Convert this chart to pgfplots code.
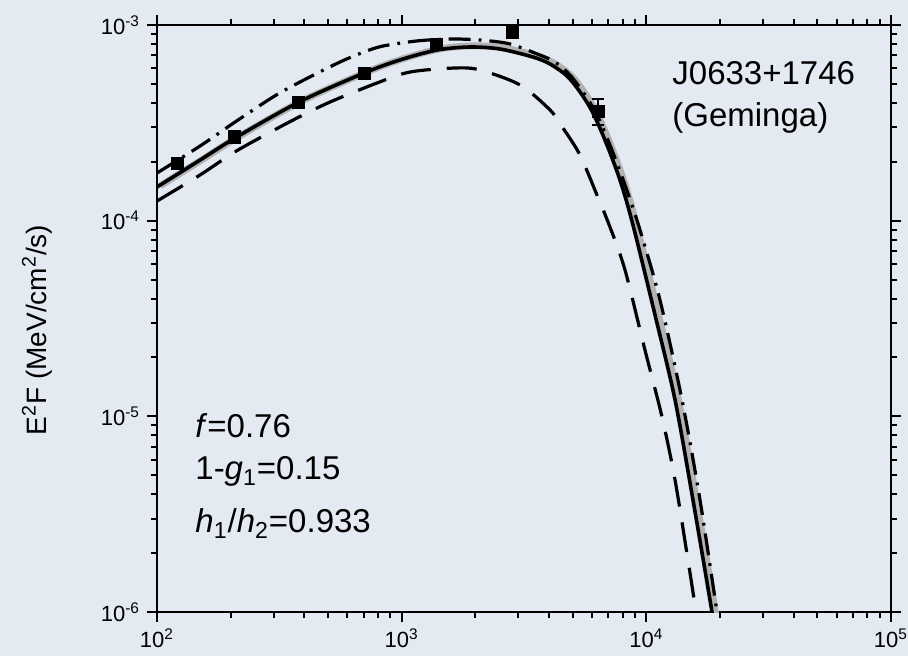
\documentclass[border=0pt]{standalone}
\usepackage{pgfplots}
\pgfplotsset{compat=1.18}
\usepackage{fontspec}
\setmainfont{Liberation Sans}
\definecolor{bg}{RGB}{227,234,242}
\definecolor{band}{RGB}{178,178,178}

\begin{document}
\begin{tikzpicture}
\fill[bg] (0,0) rectangle (454pt,328pt);
\begin{axis}[
  at={(78.5pt,22pt)}, anchor=south west,
  scale only axis, width=367pt, height=293.5pt,
  xmode=log, ymode=log,
  xmin=100, xmax=100000, ymin=1e-6, ymax=1e-3,
  tick align=outside,
  axis line style={line width=1pt},
  every tick/.style={black, line width=1pt},
  major tick length=5pt, minor tick length=3pt,
  xtick={100,1000,10000,100000},
  xticklabels={10\textsuperscript{2},10\textsuperscript{3},10\textsuperscript{4},10\textsuperscript{5}},
  minor xtick={200,300,400,500,600,700,800,900,2000,3000,4000,5000,6000,7000,8000,9000,20000,30000,40000,50000,60000,70000,80000,90000},
  ytick={1e-6,1e-5,1e-4,1e-3},
  yticklabels={10\textsuperscript{-6},10\textsuperscript{-5},10\textsuperscript{-4},10\textsuperscript{-3}},
  minor ytick={2e-6,3e-6,4e-6,5e-6,6e-6,7e-6,8e-6,9e-6,2e-5,3e-5,4e-5,5e-5,6e-5,7e-5,8e-5,9e-5,2e-4,3e-4,4e-4,5e-4,6e-4,7e-4,8e-4,9e-4},
  tick label style={font=\fontsize{11}{12}\selectfont},
  clip=true,
]
% gray band
\addplot[band, line width=3.4pt, smooth, xshift=1.6pt, yshift=0.6pt] coordinates {
(100,1.486e-4) (149.9,2.04e-4) (208.4,2.645e-4) (380.5,4.04e-4) (701.6,5.68e-4)
(984.5,6.63e-4) (1394,7.45e-4) (1902,7.72e-4) (2523,7.54e-4) (3442,6.86e-4)
(4040,6.32e-4) (4739,5.49e-4) (5356,4.55e-4) (5997,3.63e-4) (6776,2.584e-4)
(7804,1.614e-4) (8820,9.50e-5)
(10850,3.30e-5) (13100,1.213e-5) (15510,3.74e-6) (18550,1.0e-6) (19260,7.19e-7)
};
% dashed
\addplot[black, line width=1.6pt, smooth, dash pattern=on 15pt off 8pt] coordinates {
(100,1.260e-4) (149.9,1.712e-4) (204.5,2.217e-4) (276.3,2.740e-4) (373.5,3.347e-4)
(509.4,4.04e-4) (792.6,5.053e-4) (1081,5.75e-4) (1652,6.03e-4) (2090,5.89e-4)
(3045,4.94e-4) (4039,3.68e-4) (4564,2.975e-4) (5355,2.166e-4) (6284,1.352e-4)
(7102,9.28e-5) (8180,5.60e-5) (9874,2.18e-5) (11590,9.92e-6) (13100,4.73e-6)
(14800,1.84e-6) (15960,1.0e-6) (16570,7.19e-7)
};
% dash-dot
\addplot[black, line width=1.6pt, smooth, dash pattern=on 11pt off 4pt on 1.4pt off 4pt] coordinates {
(100,1.752e-4) (149.9,2.407e-4) (208.4,3.193e-4) (298.0,4.286e-4) (384.1,5.113e-4)
(559.8,6.47e-4) (701.6,7.28e-4) (838.8,7.81e-4) (1155,8.29e-4) (1576,8.48e-4)
(2090,8.38e-4) (2772,8.0e-4) (3677,7.02e-4) (4234,6.47e-4) (4875,5.55e-4)
(5614,4.39e-4) (6284,3.47e-4) (7102,2.436e-4) (8180,1.522e-4) (9421,8.96e-5)
(11370,3.93e-5) (13990,1.213e-5)
(16570,3.74e-6) (19450,1.0e-6) (20380,7.19e-7)
};
% solid
\addplot[black, line width=1.8pt, smooth] coordinates {
(100,1.486e-4) (149.9,2.04e-4) (208.4,2.645e-4) (380.5,4.04e-4) (701.6,5.68e-4)
(984.5,6.63e-4) (1394,7.45e-4) (1902,7.72e-4) (2523,7.54e-4) (3442,6.86e-4)
(4040,6.32e-4) (4739,5.49e-4) (5356,4.55e-4) (5997,3.63e-4) (6776,2.584e-4)
(7804,1.614e-4) (8820,9.50e-5)
(10850,3.30e-5) (13100,1.213e-5) (15510,3.74e-6) (18550,1.0e-6) (19260,7.19e-7)
};
% data points
\addplot[only marks, mark=square*, mark size=3pt, black] coordinates {
(120.7,1.97e-4) (208,2.68e-4) (380,4.04e-4) (702,5.69e-4) (1393,8.0e-4) (2825,9.2e-4)
};
\addplot[only marks, mark=square*, mark size=3pt, black,
  error bars/.cd, y dir=both, y explicit, error mark=-,
  error bar style={line width=0.8pt},
  error mark options={rotate=90, line width=0.8pt, mark size=3pt}]
  coordinates {
(6340,3.63e-4) +- (0,0.55e-4)
};
\end{axis}
\begin{scope}[every node/.style={anchor=base west, inner sep=0pt, font=\fontsize{16.5}{20}\selectfont}]
\node at (336pt,285.5pt) {J0633+1746};
\node at (336pt,264.5pt) {(Geminga)};
\node at (97.5pt,109pt) {\textit{f}=0.76};
\node at (97.5pt,88pt) {1-\textit{g}\textsubscript{1}=0.15};
\node at (97.5pt,61.5pt) {\textit{h}\textsubscript{1}/\textit{h}\textsubscript{2}=0.933};
\end{scope}
\node[rotate=90, font=\fontsize{14}{17}\selectfont] at (18.5pt,163pt) {E\textsuperscript{2}F (MeV/cm\textsuperscript{2}/s)};
\pgfresetboundingbox
\useasboundingbox (0,0) rectangle (454pt,328pt);
\end{tikzpicture}
\end{document}
